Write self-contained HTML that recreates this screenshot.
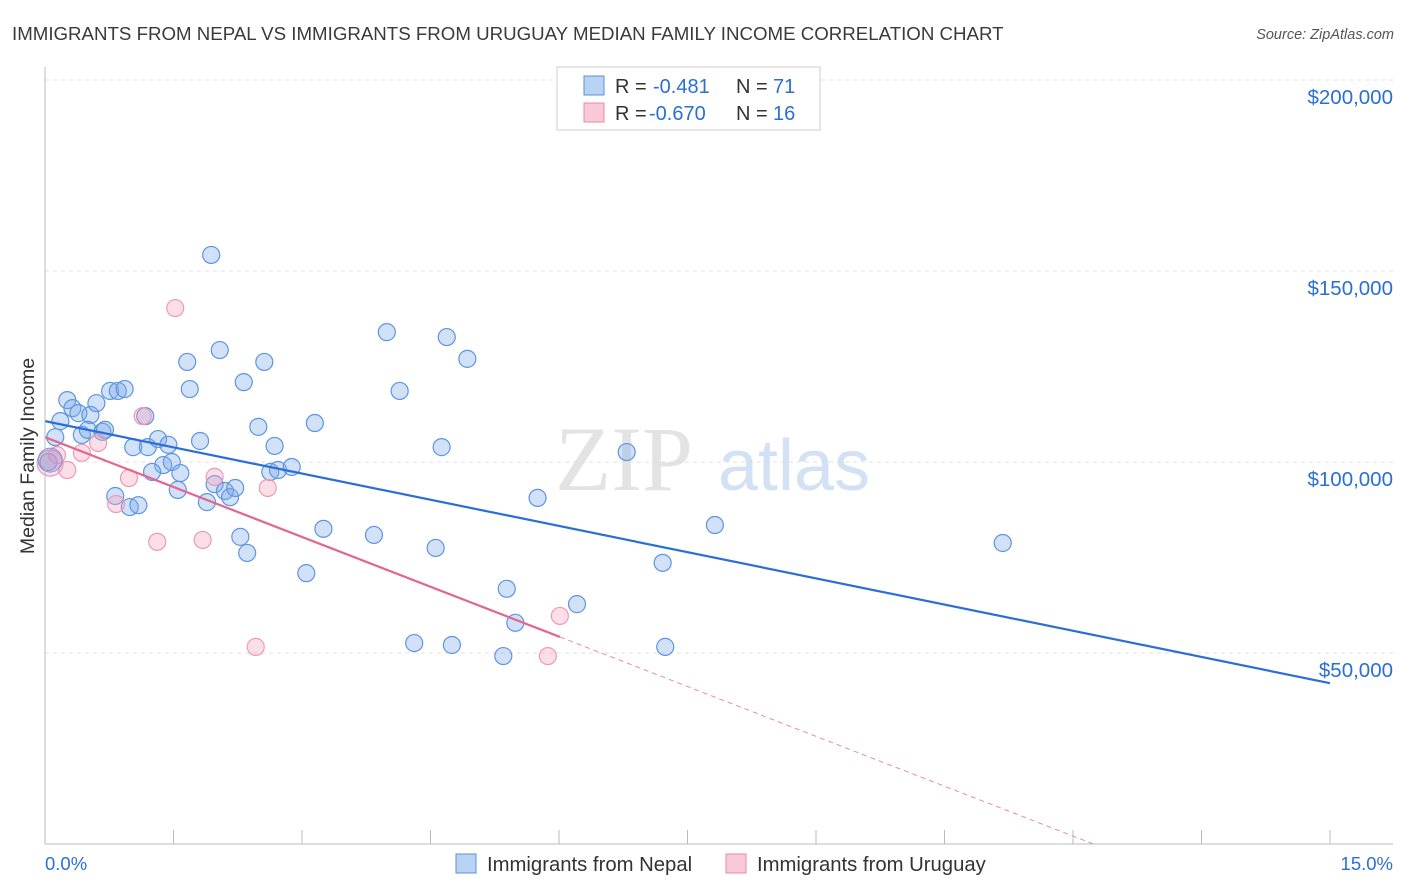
<!DOCTYPE html>
<html><head><meta charset="utf-8">
<style>
body{margin:0;background:#fff;font-family:"Liberation Sans",sans-serif;}
#c{position:absolute;left:0;top:0;}
</style></head>
<body>
<svg id="c" width="1406" height="892" xmlns="http://www.w3.org/2000/svg">
<text x="12" y="40" font-size="18.7" fill="#3a3a3a">IMMIGRANTS FROM NEPAL VS IMMIGRANTS FROM URUGUAY MEDIAN FAMILY INCOME CORRELATION CHART</text>
<text x="1394" y="39" font-size="14.5" fill="#555" font-style="italic" text-anchor="end">Source: ZipAtlas.com</text>
<text x="34" y="456" font-size="19.5" fill="#333" text-anchor="middle" transform="rotate(-90 34 456)">Median Family Income</text>
<g id="grid"></g>
<g>
<text x="555" y="490" font-size="92" fill="#ddd" font-family="Liberation Serif,serif" opacity="0.8">ZIP</text>
<text x="718" y="490" font-size="72" fill="#c9daf2" opacity="0.8">atlas</text>
</g>
<g id="marks"></g>
<g id="axes"></g>
<g>
<rect x="557" y="67" width="263" height="63" fill="#fff" stroke="#ccc"/>
<rect x="584" y="76" width="20" height="19" fill="#b9d3f5" stroke="#5a8fe0"/>
<rect x="584" y="103" width="20" height="19" fill="#f9c9d8" stroke="#e88aa8"/>
<g font-size="20">
<text x="615" y="93" fill="#333">R =</text><text x="653" y="93" fill="#2a6fd6">-0.481</text>
<text x="736" y="93" fill="#333">N =</text><text x="773" y="93" fill="#2a6fd6">71</text>
<text x="615" y="120" fill="#333">R =</text><text x="649" y="120" fill="#2a6fd6">-0.670</text>
<text x="736" y="120" fill="#333">N =</text><text x="773" y="120" fill="#2a6fd6">16</text>
</g>
</g>
<g>
<rect x="456" y="854" width="20" height="19" fill="#b9d3f5" stroke="#5a8fe0"/>
<text x="487" y="871" font-size="20.3" fill="#333">Immigrants from Nepal</text>
<rect x="726" y="854" width="20" height="19" fill="#f9c9d8" stroke="#e88aa8"/>
<text x="757" y="871" font-size="20.3" fill="#333">Immigrants from Uruguay</text>
</g>
</svg>
<script>
const yTicks=[50000,100000,150000,200000];
const yTickLabels=["$50,000","$100,000","$150,000","$200,000"];
const xTickLabels=["0.0%","15.0%"];
const nepalX=[0.12,0.04,0.18,0.26,0.32,0.39,0.43,0.53,0.50,0.60,0.67,0.70,0.76,0.85,0.93,0.82,0.99,1.09,1.03,1.17,1.20,1.32,1.44,1.38,1.48,1.25,1.58,1.55,1.66,1.69,1.81,1.89,1.94,1.98,2.04,2.10,2.16,2.22,2.32,2.28,2.36,2.49,2.56,2.63,2.68,2.72,2.88,3.05,3.15,3.25,3.84,3.99,4.14,4.31,4.56,4.63,4.69,4.75,4.93,5.35,5.39,5.49,5.75,6.21,6.79,7.21,7.24,7.82,11.18];
const nepalY=[106500,100000,110700,116200,114100,112800,107100,112300,108400,115400,107900,108400,118600,118600,119100,91100,88200,88700,103900,112000,103900,106000,104500,99200,100000,97400,97100,92700,126200,119100,105500,89500,154200,94200,129300,92400,90800,93200,120900,80400,76200,109200,126200,97400,104200,97900,98700,70900,110200,82500,80900,134000,118600,52600,77500,103900,132700,52100,127000,49200,66800,57900,90600,62800,102600,73600,51600,83500,78800];
const uruX=[0.06,0.14,0.26,0.43,0.62,0.83,0.98,1.14,1.31,1.52,1.84,1.98,2.46,2.60,5.87,6.01];
const uruY=[99700,101800,97900,102400,105000,89000,95800,112000,79100,140300,79600,96100,51600,93200,49200,59700];
const nepalTrend=[110700,42100]; // income at 0% and 15%
const uruTrend=[106500,54200,6.01]; // income at 0%, at end x, end x
const NS='http://www.w3.org/2000/svg';
const X=v=>45+v/15*1285, Y=v=>844-v/50000*191;
function el(t,a,p){const e=document.createElementNS(NS,t);for(const k in a)e.setAttribute(k,a[k]);p.appendChild(e);return e;}
const grid=document.getElementById('grid'),marks=document.getElementById('marks'),axes=document.getElementById('axes');
yTicks.forEach((t,i)=>{
 const l=el('line',{x1:45,x2:1393,y1:Y(t),y2:Y(t),stroke:'#e2e2e2','stroke-dasharray':'4,4'},grid);
 
 
 const tx=el('text',{x:1393,y:Y(t)+24,'font-size':20.5,fill:'#2a6fd6','text-anchor':'end'},axes);
 tx.textContent=yTickLabels[i];
 
 
});
const ya=el('line',{x1:45,x2:45,y1:67,y2:844,stroke:'#bbb'},axes);


const xa=el('line',{x1:45,x2:1393,y1:844,y2:844,stroke:'#bbb'},axes);


for(let i=0;i<=10;i++){const t=el('line',{x1:X(i*1.5),x2:X(i*1.5),y1:830,y2:844,stroke:'#bbb'},axes);
 
 }
[[0,'start',45],[1,'end',1393]].forEach(([i,a,x])=>{const t=el('text',{x:x,y:870,'font-size':18.5,fill:'#2a6fd6','text-anchor':a},axes);t.textContent=xTickLabels[i];
 
 });
nepalX.forEach((v,i)=>{const c=el('circle',{cx:X(v),cy:Y(nepalY[i]),r:8.5,fill:'rgba(120,170,235,0.35)',stroke:'#5f95e0','stroke-width':1.2},marks);
 
 });
uruX.forEach((v,i)=>{const c=el('circle',{cx:X(v),cy:Y(uruY[i]),r:i==0?13:8.5,fill:'rgba(245,160,190,0.35)',stroke:'#ec9ab5','stroke-width':1.2},marks);
 
 });
const big=el('circle',{cx:X(0.06),cy:Y(100500),r:12,fill:'rgba(150,140,210,0.35)',stroke:'#7f95dc'},marks);


const nl=el('line',{x1:X(0),y1:Y(nepalTrend[0]),x2:X(15),y2:Y(nepalTrend[1]),stroke:'#2a6fd6','stroke-width':2.2},marks);


const ul=el('line',{x1:X(0),y1:Y(uruTrend[0]),x2:X(uruTrend[2]),y2:Y(uruTrend[1]),stroke:'#e4658f','stroke-width':2.2},marks);


const slope=(uruTrend[1]-uruTrend[0])/uruTrend[2], xz=-uruTrend[0]/slope;
const ud=el('line',{x1:X(uruTrend[2]),y1:Y(uruTrend[1]),x2:X(xz),y2:Y(0),stroke:'#e88aa8','stroke-width':1,'stroke-dasharray':'5,4'},marks);


</script>
</body></html>
